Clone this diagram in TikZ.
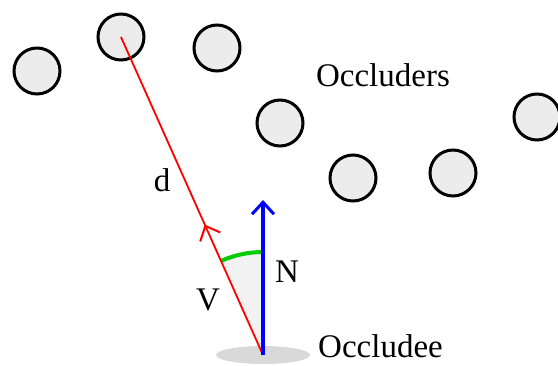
\documentclass[tikz,border=0pt]{standalone}
\usepackage{fontspec}
\setmainfont{Liberation Serif}
\usetikzlibrary{arrows.meta, positioning, shapes.geometric, decorations.markings}

\begin{document}
\begin{tikzpicture}[
  x=1pt, y=-1pt,
  occluder/.style={circle, draw=black, line width=3pt, fill=gray!15, minimum size=46pt, inner sep=0pt},
  label/.style={font=\fontsize{33}{38}\selectfont, inner sep=0pt},
  ray/.style={draw=red, line width=1.8pt},
  normal/.style={draw=blue, line width=4pt, -{Straight Barb[length=12pt, width=22pt, line width=3pt]}},
  anglearc/.style={draw=green!80!black, line width=4pt}
]
\useasboundingbox (0,0) rectangle (558,365);

% ---------------------------------------------------
% Occluders
% ---------------------------------------------------
\node[occluder] (occA) at (37,71) {};
\node[occluder] (occB) at (121,37) {};
\node[occluder] (occC) at (217,48) {};
\node[occluder] (occD) at (280,123) {};
\node[occluder] (occE) at (353,178) {};
\node[occluder] (occF) at (453,173) {};
\node[occluder] (occG) at (537,117) {};

\node[label] (occluders) at (383,75) {Occluders};

% ---------------------------------------------------
% Occludee
% ---------------------------------------------------
\node[ellipse, fill=gray!30, minimum width=94pt, minimum height=18pt, inner sep=0pt] (occludee) at (263,355) {};
\node[label, anchor=west] (occludeeText) at (318,346) {Occludee};

\coordinate (nTip) at (263,200);

% ---------------------------------------------------
% Angle between V and N
% ---------------------------------------------------
\fill[gray!10] (occludee.center) -- ++(114:103pt) arc[start angle=114, end angle=90, radius=103pt] -- cycle;
\draw[anglearc] (occludee.center) ++(114:103pt) arc[start angle=114, end angle=90, radius=103pt];

% ---------------------------------------------------
% Vectors
% ---------------------------------------------------
\draw[ray, postaction={decorate}, decoration={markings,
  mark=at position 0.41 with {\arrow{Straight Barb[length=12pt, width=22pt, line width=2pt]}}}]
  (occludee.center) -- (occB.center);
\draw[normal] (occludee.center) -- (nTip);

\node[label] (dText) at (162,180) {d};
\node[label] (vText) at (208,300) {V};
\node[label] (nText) at (287,272) {N};

\end{tikzpicture}
\end{document}
